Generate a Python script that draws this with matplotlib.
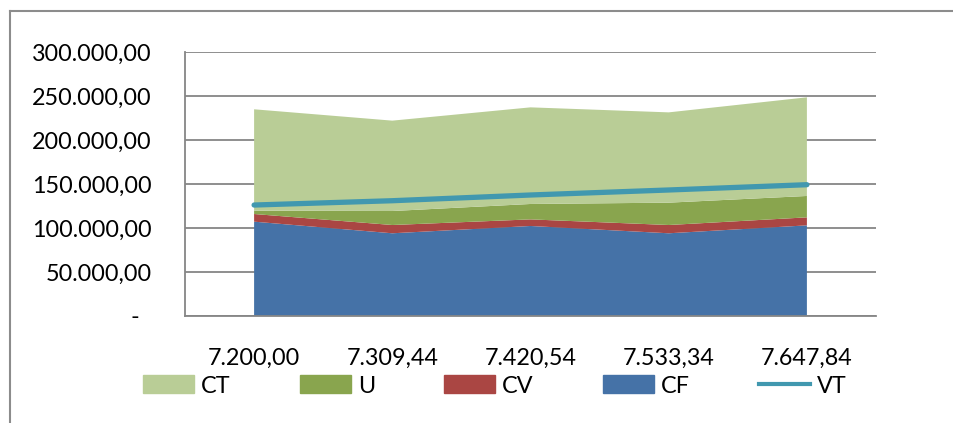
import matplotlib.pyplot as plt
from matplotlib.lines import Line2D
from matplotlib.patches import Patch
from matplotlib.ticker import FuncFormatter

plt.rcParams["font.family"] = ["Lato", "DejaVu Sans"]

# sales volume on the category axis
volumes = ["7.200,00", "7.309,44", "7.420,54", "7.533,34", "7.647,84"]

# stacked cost layers (bottom to top)
cf = [107200, 94000, 102300, 94000, 103000]
cv = [8700, 9400, 7500, 9400, 9100]
u = [3800, 15900, 17500, 25400, 24300]
ct = [115200, 102700, 109800, 102600, 112100]

# total revenue line
vt = [126100, 131000, 137500, 143200, 149200]

colors = {"CF": "#4572A7", "CV": "#AA4643", "U": "#89A54E", "CT": "#B9CD96", "VT": "#4198AF"}
FS = 16.8


def fmt(v, pos):
    if v == 0:
        return "-  "
    s = f"{v:,.2f}"
    return s.replace(",", "X").replace(".", ",").replace("X", ".")


fig = plt.figure(figsize=(9.54, 4.23), dpi=100)
ax = fig.add_axes([185 / 954, 1 - 316 / 423, (876 - 185) / 954, (316 - 52) / 423])

x = list(range(len(volumes)))
ax.stackplot(x, cf, cv, u, ct,
             colors=[colors["CF"], colors["CV"], colors["U"], colors["CT"]],
             linewidth=0)
ax.plot(x, vt, color=colors["VT"], lw=3.8, solid_capstyle="round", zorder=5)

ax.set_xlim(-0.5, len(volumes) - 0.5)
ax.set_ylim(0, 300000)
ax.set_yticks(range(0, 300001, 50000))
ax.yaxis.set_major_formatter(FuncFormatter(fmt))
ax.set_xticks(x)
ax.set_xticklabels(volumes)

ax.grid(axis="y", color="#868686", lw=1.3)
ax.set_axisbelow(True)
for side in ["top", "right"]:
    ax.spines[side].set_visible(False)
for side in ["left", "bottom"]:
    ax.spines[side].set_color("#868686")
    ax.spines[side].set_linewidth(1.3)

ax.tick_params(axis="y", length=0, pad=24, labelsize=FS)
ax.tick_params(axis="x", length=0, pad=23, labelsize=FS)

# thin border lines around the chart area
fig.add_artist(Line2D([10 / 954, 10 / 954], [0, 1 - 11 / 423], color="#8C8C8C", lw=1.5))
fig.add_artist(Line2D([10 / 954, 1], [1 - 11 / 423, 1 - 11 / 423], color="#8C8C8C", lw=1.5))

handles = [
    Patch(color=colors["CT"], label="CT"),
    Patch(color=colors["U"], label="U"),
    Patch(color=colors["CV"], label="CV"),
    Patch(color=colors["CF"], label="CF"),
    Line2D([], [], color=colors["VT"], lw=3, label="VT"),
]
fig.legend(handles=handles, loc="center", bbox_to_anchor=(495 / 954, 1 - 386 / 423),
           ncol=5, frameon=False, fontsize=FS, handlelength=2.2, handleheight=0.8,
           handletextpad=0.3, columnspacing=2.95, borderaxespad=0)

fig.savefig("out.png", dpi=100)
